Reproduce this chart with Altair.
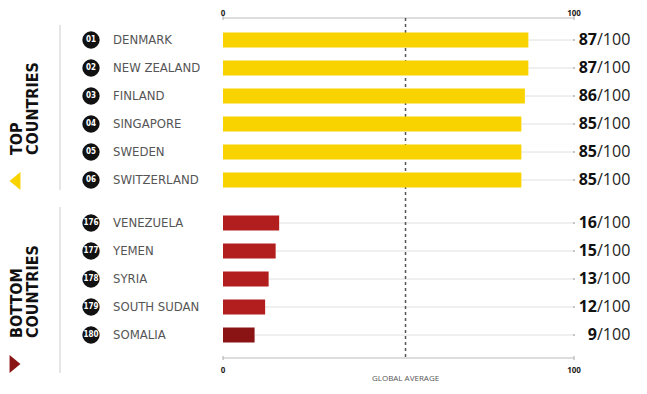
import altair as alt
import pandas as pd

# ---- data ----
ranks = [1, 2, 3, 4, 5, 6, 176, 177, 178, 179, 180]
countries = ["DENMARK", "NEW ZEALAND", "FINLAND", "SINGAPORE", "SWEDEN", "SWITZERLAND",
             "VENEZUELA", "YEMEN", "SYRIA", "SOUTH SUDAN", "SOMALIA"]
scores = [87, 87, 86, 85, 85, 85, 16, 15, 13, 12, 9]
groups = ["top"] * 6 + ["bottom"] * 5
axis_ticks = [0, 100]
global_average = 52
max_score = 100

df = pd.DataFrame({"rank": ranks, "country": countries, "score": scores,
                   "group": groups, "max": max_score})
ticks_df = pd.DataFrame({"v": axis_ticks})
avg_df = pd.DataFrame({"avg": [global_average], "label": ["GLOBAL AVERAGE"]})
one = alt.Data(values=[{}])

COND = "Liberation Sans Narrow, DejaVu Sans Condensed, Roboto Condensed, Roboto, sans-serif"
SANS = "Open Sans, Noto Sans, sans-serif"

X = alt.Scale(domain=[0, 100], range=[215, 566], nice=False, zero=False, padding=0)
Y = alt.Scale(domain=[1, 6, 176, 180], range=[32, 172, 215, 327], nice=False, zero=False,
              padding=0)
y = alt.Y("rank:Q", scale=Y, axis=None)

base = alt.Chart(df)

connectors = base.mark_rule(color="#e0e0e0", strokeWidth=1).encode(
    x=alt.X("score:Q", scale=X, axis=None), x2="max:Q", y=y)
end_dots = base.mark_circle(size=5, color="#bbbbbb", opacity=1).encode(
    x=alt.X("max:Q", scale=X, axis=None), y=y)
bars = base.mark_bar(height=15).encode(
    x=alt.X("score:Q", scale=X, axis=None),
    x2=alt.datum(0),
    y=y,
    color=alt.condition(
        f"datum.rank == {ranks[-1]}",
        alt.value("#8a1414"),
        alt.Color("group:N", scale=alt.Scale(domain=["top", "bottom"],
                                             range=["#F8D300", "#B21E1E"]), legend=None),
    ),
)
circles = base.mark_circle(size=300, color="#111111", opacity=1).encode(
    x=alt.value(83), y=y)
rank_txt = base.transform_calculate(
    label="datum.rank < 10 ? '0' + datum.rank : '' + datum.rank"
).mark_text(color="white", fontSize=8, fontWeight="bold", font=COND,
            baseline="middle", align="center").encode(
    x=alt.value(83), y=y, text="label:N")
names = base.mark_text(align="left", baseline="middle", fontSize=13, font=COND,
                       color="#555555").encode(x=alt.value(105), y=y, text="country:N")
score_num = base.mark_text(align="right", baseline="middle", fontSize=16,
                           fontWeight="bold", font=SANS, color="#111111").encode(
    x=alt.value(589), y=y, text="score:Q")
score_den = base.transform_calculate(den="'/' + datum.max").mark_text(
    align="left", baseline="middle", fontSize=16, font=SANS, color="#222222").encode(
    x=alt.value(589), y=y, text="den:N")

# axes (top and bottom) drawn from tick values through the x scale
def axis_layers(y_line, y_label, baseline):
    line = alt.Chart(ticks_df).transform_aggregate(lo="min(v)", hi="max(v)").mark_rule(
        color="#bbbbbb", strokeWidth=1).encode(
        x=alt.X("lo:Q", scale=X, axis=None), x2="hi:Q", y=alt.value(y_line))
    tks = alt.Chart(ticks_df).mark_rule(color="#aaaaaa", strokeWidth=1).encode(
        x=alt.X("v:Q", scale=X, axis=None), y=alt.value(y_line - 2), y2=alt.value(y_line + 2))
    lbl = alt.Chart(ticks_df).mark_text(fontSize=8, fontWeight="bold", font=SANS,
                                        color="#222222", baseline=baseline).encode(
        x=alt.X("v:Q", scale=X, axis=None), y=alt.value(y_label), text="v:Q")
    return [line, tks, lbl]

avg_line = alt.Chart(avg_df).mark_rule(strokeDash=[3, 3], color="#555555", strokeWidth=1.5).encode(
    x=alt.X("avg:Q", scale=X, axis=None), y=alt.value(10), y2=alt.value(350))
avg_lbl = alt.Chart(avg_df).mark_text(fontSize=8, font=SANS, color="#555555",
                                      baseline="middle").encode(
    x=alt.X("avg:Q", scale=X, axis=None), y=alt.value(371), text="label:N")

# left-hand group decoration
vline_top = alt.Chart(one).mark_rule(color="#cccccc", strokeWidth=1).encode(
    x=alt.value(52), y=alt.value(17), y2=alt.value(182))
vline_bot = alt.Chart(one).mark_rule(color="#cccccc", strokeWidth=1).encode(
    x=alt.value(52), y=alt.value(199), y2=alt.value(365))

def title_txt(text, xpos, ypos):
    return alt.Chart(one).mark_text(angle=270, align="left", baseline="middle",
                                    fontSize=16, fontWeight="bold", font=COND,
                                    color="#111111").encode(
        x=alt.value(xpos), y=alt.value(ypos), text=alt.value(text))

TRI_L = "M0.6,-1L-0.6,0L0.6,1Z"
TRI_R = "M-0.6,-1L0.6,0L-0.6,1Z"
tri_top = alt.Chart(one).mark_point(shape=TRI_L, size=330, filled=True, opacity=1,
                                    color="#F8D300", strokeWidth=0).encode(
    x=alt.value(7), y=alt.value(173))
tri_bot = alt.Chart(one).mark_point(shape=TRI_R, size=330, filled=True, opacity=1,
                                    color="#8a1414", strokeWidth=0).encode(
    x=alt.value(7), y=alt.value(356))

chart = alt.layer(
    connectors, end_dots, *axis_layers(10, 2, "top"), *axis_layers(350, 363, "middle"),
    avg_line, avg_lbl, bars, circles, rank_txt, names, score_num, score_den,
    vline_top, vline_bot,
    title_txt("TOP", 9, 147), title_txt("COUNTRIES", 25, 147),
    title_txt("BOTTOM", 9, 330), title_txt("COUNTRIES", 25, 330),
    tri_top, tri_bot,
).properties(
    width=631, height=378,
    autosize=alt.AutoSizeParams(type="none"),
    padding=0,
).configure_view(stroke=None)

chart.save("out.html", embed_options={"renderer": "svg", "actions": False})
